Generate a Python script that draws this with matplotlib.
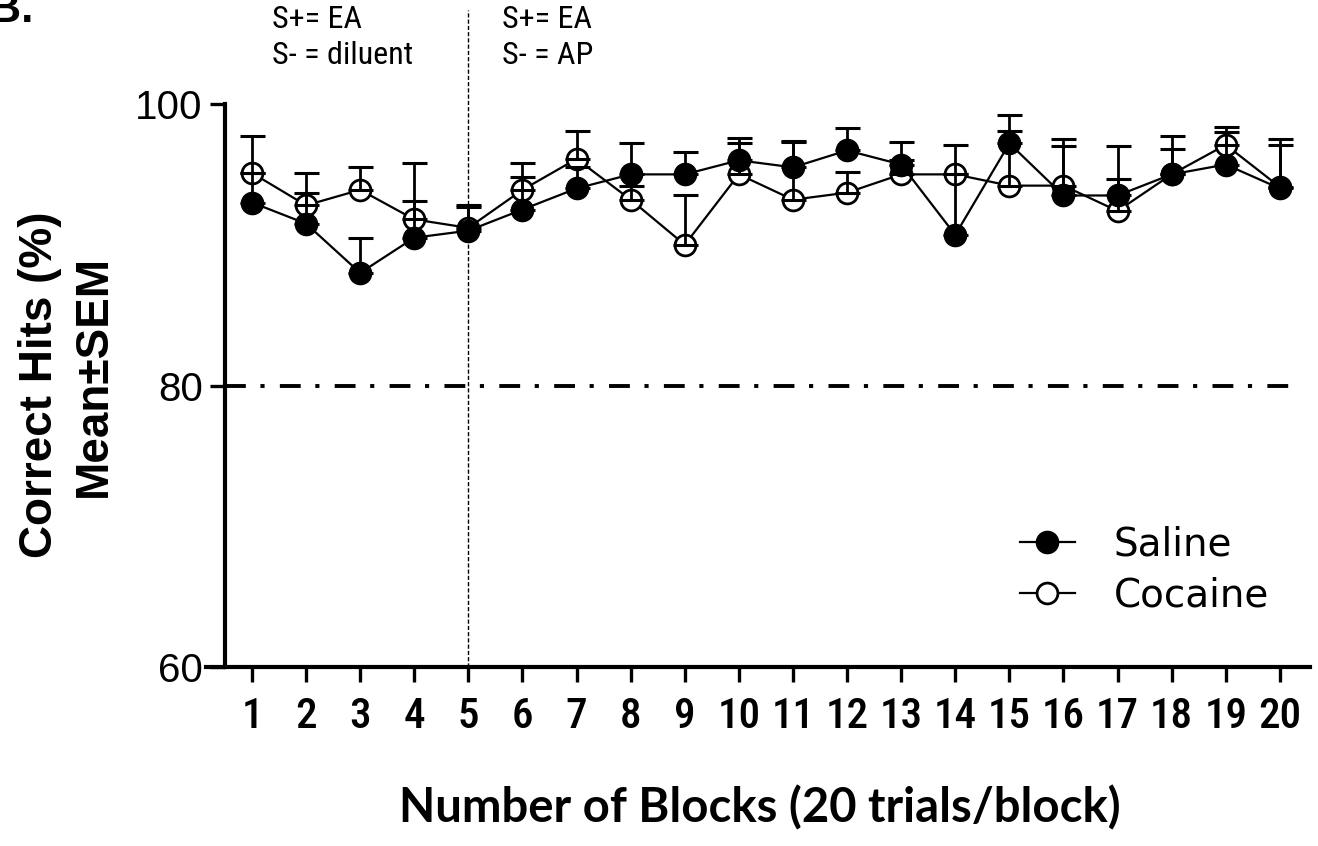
import matplotlib
matplotlib.use("Agg")
import matplotlib.pyplot as plt
import numpy as np

# ---------------- data ----------------
blocks = list(range(1, 21))
saline_mean = [93.0, 91.5, 88.0, 90.5, 91.0, 92.5, 94.0, 95.0, 95.0, 96.0,
               95.5, 96.7, 95.7, 90.7, 97.2, 93.5, 93.5, 95.0, 95.7, 94.0]
saline_sem = [2.1, 2.2, 2.5, 2.6, 1.8, 2.3, 1.5, 2.2, 1.6, 1.6,
              1.8, 1.6, 1.6, 4.3, 2.0, 3.5, 1.2, 2.7, 2.3, 3.5]
cocaine_mean = [95.1, 92.8, 93.9, 91.8, 91.2, 93.9, 96.1, 93.2, 90.0, 95.0,
                93.2, 93.7, 95.0, 95.0, 94.2, 94.2, 92.4, 95.0, 97.1, 94.1]
cocaine_sem = [2.65, 2.3, 1.6, 4.0, 1.5, 1.9, 2.0, 1.0, 3.5, 2.2,
               4.2, 1.5, 1.0, 2.1, 3.9, 3.3, 4.6, 1.8, 1.3, 3.0]
yticks = [60, 80, 100]
criterion = 80
phase_change = 5
series_labels = ["Saline", "Cocaine"]
phase1_text = ["S+= EA", "S- = diluent"]
phase2_text = ["S+= EA", "S- = AP"]
xlabel = "Number of Blocks (20 trials/block)"
ylabel1 = "Correct Hits (%)"
ylabel2 = "Mean\u00b1SEM"

plt.rcParams['lines.scale_dashes'] = False

W, H = 1318, 846
fig = plt.figure(figsize=(W / 100, H / 100), dpi=100)
fig.patch.set_facecolor("white")

x_left_px, x_right_px = 206, 1309.6
y_top_px, y_bot_px = 104, 667
ax = fig.add_axes([x_left_px / W, 1 - y_bot_px / H,
                   (x_right_px - x_left_px) / W, (y_bot_px - y_top_px) / H])

x = np.array(blocks)
zs = np.zeros(len(blocks))

# cocaine (open circles)
ax.plot(x, cocaine_mean, color="black", lw=1.6, marker="o", ms=15,
        mfc="white", mec="black", mew=2.0, zorder=2, label=series_labels[1])
ax.errorbar(x, cocaine_mean, yerr=[zs, cocaine_sem], fmt="none", ecolor="black",
            elinewidth=2.0, capsize=9, capthick=2.2, zorder=3)
# saline (filled circles)
ax.errorbar(x, saline_mean, yerr=[zs, saline_sem], fmt="none", ecolor="black",
            elinewidth=2.0, capsize=9, capthick=2.2, zorder=3.5)
ax.plot(x, saline_mean, color="black", lw=1.6, marker="o", ms=16,
        mfc="black", mec="black", zorder=4, label=series_labels[0])

# criterion line
ax.axhline(criterion, xmin=0, xmax=1, color="black", lw=2.8)
crit = ax.lines[-1]
crit.set_xdata([0.5, 20.2])
crit.set_transform(ax.transData)
crit.set_dashes([15, 10.5, 3, 11])

# phase change line
ax.axvline(phase_change, ymin=0, ymax=(106.7 - 60) / 40, color="black",
           lw=1.0, clip_on=False, zorder=1)
ax.lines[-1].set_dashes([3, 1.5])

ax.set_xlim(0.15, 20.55)
ax.set_ylim(60, 100)
ax.set_xticks(blocks)
ax.set_yticks(yticks)

for s in ["top", "right"]:
    ax.spines[s].set_visible(False)
ax.spines["left"].set_position(("data", 0.5))
ax.spines["left"].set_linewidth(3)
ax.spines["bottom"].set_linewidth(3)
ax.tick_params(axis="both", direction="out", length=11, width=2.4)
ax.tick_params(axis="x", pad=10)
ax.tick_params(axis="y", pad=5)

narrow = ["Roboto Condensed", "Liberation Sans Narrow", "Liberation Sans"]
ax.set_xticklabels([str(b) for b in blocks], family=narrow, fontsize=31,
                   fontweight="medium")
ax.set_yticklabels([str(t) for t in yticks], family="Liberation Sans", fontsize=29)

# axis labels
fig.text(760 / W, 1 - 808 / H, xlabel, family="Lato", fontweight="bold",
         fontsize=34, ha="center", va="center")
fig.text(40 / W, 1 - 385 / H, ylabel1, family="Liberation Sans", fontweight="bold",
         fontsize=33, rotation=90, ha="center", va="center")
fig.text(94 / W, 1 - 376 / H, ylabel2, family="Liberation Sans", fontweight="bold",
         fontsize=33, rotation=90, ha="center", va="center")

# phase annotations
for i, t in enumerate(phase1_text):
    fig.text(272 / W, 1 - (20 + 35 * i) / H, t, family=narrow, fontsize=23,
             ha="left", va="center")
for i, t in enumerate(phase2_text):
    fig.text(502 / W, 1 - (20 + 35 * i) / H, t, family=narrow, fontsize=23,
             ha="left", va="center")

# panel letter (cropped at the top-left corner as in the reference)
fig.text(-0.008, 1 - 22 / H, "B.", family="Liberation Sans", fontweight="bold",
         fontsize=32, ha="left", va="baseline")

# legend
h, l = ax.get_legend_handles_labels()
order = [1, 0]
leg = ax.legend([h[i] for i in order], [l[i] for i in order],
                loc="upper left", bbox_to_anchor=((1020 - x_left_px) / (x_right_px - x_left_px),
                                                   (y_bot_px - 526) / (y_bot_px - y_top_px)),
                frameon=False, borderpad=0, borderaxespad=0,
                handlelength=1.41, handletextpad=1.0, labelspacing=0.32,
                prop={"family": "DejaVu Sans", "size": 28})

fig.savefig("out.png", dpi=100, facecolor="white")
